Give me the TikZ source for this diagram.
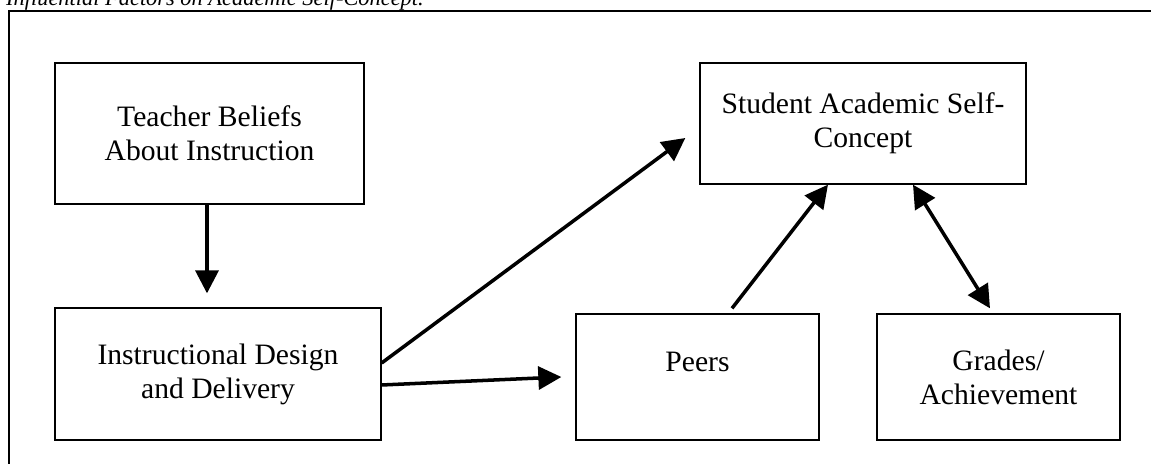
\documentclass[tikz,border=0pt]{standalone}
\usepackage{fontspec}
\setmainfont{Liberation Serif}
\usepackage{tikz}
\usetikzlibrary{arrows.meta}
\tikzset{%
  factor/.style={rectangle, draw=black, line width=0.75pt, align=center, font=\fontsize{16.85}{19.35}\selectfont},
  influences/.style={-{Triangle[length=0.46cm,width=0.46cm]}, line width=2pt},
  reciprocal/.style={{Triangle[length=0.46cm,width=0.46cm]}-{Triangle[length=0.46cm,width=0.46cm]}, line width=2pt},
  frame/.style={line width=1.5pt}
}

\begin{document}
\begin{tikzpicture}
        \useasboundingbox (0,0) rectangle (23.02,-9.28);
        \node [anchor=base west, font=\fontsize{12.75}{15}\selectfont\itshape] (cap) at (0,-0.11) {Influential Factors on Academic Self-Concept.};
        \draw [frame] (0.18,-9.5) -- (0.18,-0.22) -- (23.3,-0.22);

        \node [factor, minimum width=6.18cm, minimum height=2.82cm] (tbi) at (4.19,-2.67) {Teacher Beliefs\\About Instruction};
        \node [factor, minimum width=6.52cm, minimum height=2.64cm, below of=tbi, node distance=4.81cm, xshift=0.17cm] (idd) {Instructional Design\\and Delivery};
        \node [factor, minimum width=4.86cm, minimum height=2.52cm, text depth=0.6cm, right of=idd, node distance=9.59cm, yshift=-0.06cm] (prs) {Peers};
        \node [factor, minimum width=4.86cm, minimum height=2.52cm, right of=prs, node distance=6.02cm] (gra) {Grades/\\Achievement};
        \node [factor, minimum width=6.52cm, minimum height=2.42cm, above of=prs, node distance=5.07cm, xshift=3.31cm] (sas) {Student Academic Self-\\Concept};

        \draw [influences, shorten >=0.28cm] ([xshift=-0.05cm]tbi.south) -- ([xshift=-0.05cm]tbi.south |- idd.north);
        \draw [influences] ([yshift=-0.22cm]idd.east) -- ([xshift=-0.28cm]prs.west);
        \draw [influences] ([yshift=0.22cm]idd.east) -- ([xshift=-0.28cm, yshift=-0.29cm]sas.west);
        \draw [influences] ([xshift=0.69cm, yshift=0.1cm]prs.north) -- ([xshift=-0.7cm]sas.south);
        \draw [reciprocal] ([xshift=1cm]sas.south) -- ([xshift=-0.17cm, yshift=0.1cm]gra.north);
    \end{tikzpicture}
\end{document}
